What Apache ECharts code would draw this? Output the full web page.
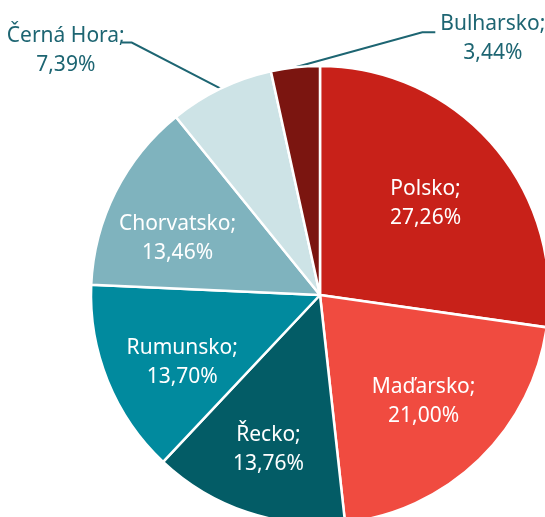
<!DOCTYPE html>
<html>
<head>
<meta charset="utf-8">
<script src="https://cdn.jsdelivr.net/npm/echarts@6/dist/echarts.min.js"></script>
<style>
  html, body { margin: 0; padding: 0; background: #fff; }
  #main { width: 545px; height: 517px; }
</style>
</head>
<body>
<div id="main"></div>
<script>
// podíly zemí (%), po směru hodinových ručiček od 12 hodin
const countries = ['Polsko', 'Maďarsko', 'Řecko', 'Rumunsko', 'Chorvatsko', 'Černá Hora', 'Bulharsko'];
const shares = [27.26, 21.00, 13.76, 13.70, 13.46, 7.39, 3.44];
const sliceColors = ['#C82119', '#F04B40', '#035C66', '#018A9E', '#7FB3BE', '#CDE3E6', '#7B1510'];

const cx = 320, cy = 295, R = 229;
const labelFont = 'Noto Sans';
const outsideColor = '#1D6572';

// popisky uvnitř výseče: vzdálenost (podíl poloměru) a pootočení ve stupních
const insideFactor = [0.61, 0.65, 0.71, 0.67, 0.67];
const insideTurn = [0, 0, 0, -4, -5];
// vnější popisky: posun zalomení čáry, délka vodorovné části
const outsideGuide = {
  5: { dx: -89, dy: -46, len: -10, tx: 3, ty: 8 },
  6: { dx: 127, dy: -35, len: 13, tx: 5, ty: 6 }
};

const total = shares.reduce((a, b) => a + b, 0);
function midAngle(i) {
  let before = 0;
  for (let k = 0; k < i; k++) before += shares[k];
  return (before + shares[i] / 2) / total * Math.PI * 2;
}

const data = countries.map((name, i) => {
  const outside = outsideGuide[i] !== undefined;
  return {
    name: name,
    value: shares[i],
    itemStyle: { color: sliceColors[i] },
    label: outside ? { position: 'outside', color: outsideColor } : { position: 'inside', color: '#fff' },
    labelLine: { show: outside }
  };
});

const chart = echarts.init(document.getElementById('main'));
chart.setOption({
  animation: false,
  series: [{
    type: 'pie',
    center: [cx, cy],
    radius: R,
    startAngle: 90,
    clockwise: true,
    avoidLabelOverlap: false,
    itemStyle: { borderColor: '#fff', borderWidth: 2.5 },
    label: {
      show: true,
      fontFamily: labelFont,
      fontSize: 21,
      lineHeight: 29,
      align: 'center',
      formatter: p => p.name + ';\n' + p.value.toFixed(2).replace('.', ',') + '%'
    },
    labelLine: {
      show: false,
      lineStyle: { color: outsideColor, width: 2 }
    },
    labelLayout: function (params) {
      const i = params.dataIndex;
      const g = outsideGuide[i];
      if (!g) {
        const a = midAngle(i) + insideTurn[i] * Math.PI / 180;
        const f = insideFactor[i] * R;
        return { x: cx + f * Math.sin(a), y: cy - f * Math.cos(a), align: 'center', verticalAlign: 'middle' };
      }
      const a = midAngle(i);
      const p0 = [cx + R * Math.sin(a), cy - R * Math.cos(a)];
      const p1 = [p0[0] + g.dx, p0[1] + g.dy];
      const p2 = [p1[0] + g.len, p1[1]];
      const w = params.labelRect.width;
      const x = g.len < 0 ? p2[0] + g.tx - w / 2 : p2[0] + g.tx + w / 2;
      return {
        x: x,
        y: p2[1] + g.ty,
        align: 'center',
        verticalAlign: 'middle',
        labelLinePoints: [p0, p1, p2]
      };
    },
    data: data
  }]
});
</script>
</body>
</html>
